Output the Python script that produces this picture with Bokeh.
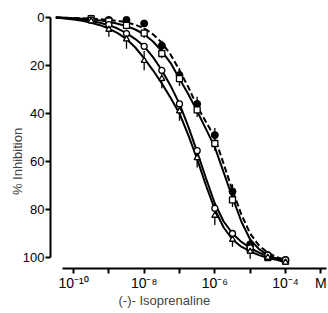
import math
from bokeh.plotting import figure
from bokeh.models import Range1d, FixedTicker, Label, ColumnDataSource, Whisker
from bokeh.embed import file_html
from bokeh.resources import INLINE

# log10 of molar (-)-isoprenaline concentration at measured points
log_conc = [-9.5, -9.0, -8.5, -8.0, -7.5, -7.0, -6.5, -6.0, -5.5, -5.0, -4.5, -4.0]
inh_filled = [0.5, 1.0, 1.0, 2.5, 11.7, 24.0, 36.0, 49.0, 72.5, 94.5, 99.0, 101.0]
inh_square = [0.5, 1.5, 3.3, 6.5, 15.0, 25.5, 38.5, 52.5, 76.0, 96.5, 100.0, 101.5]
inh_circle = [1.0, 3.0, 6.7, 12.0, 22.0, 36.0, 55.5, 79.5, 90.0, 96.0, 99.0, 101.0]
inh_triangle = [1.5, 5.0, 9.0, 18.0, 25.5, 39.0, 58.5, 82.5, 92.5, 97.5, 100.0, 102.0]
err_filled = [0, 0, 0, 0, 2, 3, 3, 3, 3, 2, 0, 0]
err_square = [0, 0, 0, 2, 2, 3, 3, 3, 3, 2, 0, 0]
err_triangle = [0, 3, 4, 4, 4, 4, 4, 4, 3, 3, 0, 0]

# fitted curves
curve_log = [-10.5, -10.25, -10.0, -9.75, -9.5, -9.25, -9.0, -8.75, -8.5, -8.25,
             -8.0, -7.75, -7.5, -7.25, -7.0, -6.75, -6.5, -6.25, -6.0, -5.75,
             -5.5, -5.25, -5.0, -4.75, -4.5, -4.25, -4.0]
curve_filled = [0, 0.1, 0.2, 0.3, 0.5, 0.7, 1.0, 1.4, 2.0, 3.0,
                4.5, 7.0, 10.5, 15.5, 22, 29, 37, 43.5, 50, 61,
                72, 82, 90, 95, 98, 99.8, 101]
curve_square = [0, 0.15, 0.3, 0.5, 0.8, 1.2, 1.8, 2.6, 3.6, 5.0,
                7.0, 10, 14, 19, 25.5, 32, 39, 46.5, 54, 64.5,
                75, 85, 92.5, 96.5, 99, 100.5, 101.5]
curve_circle = [0, 0.25, 0.5, 1.0, 1.5, 2.2, 3.2, 4.6, 6.5, 9.0,
                12, 16.5, 22, 28.5, 36, 45.5, 56, 67, 77.5, 85,
                90, 93.5, 96, 98, 99.5, 100.5, 101]
curve_triangle = [0, 0.4, 0.8, 1.4, 2.2, 3.2, 4.6, 6.5, 9.0, 12.5,
                  17, 22, 27.5, 33.5, 40, 49, 59, 70, 80, 87.5,
                  92.5, 95.5, 97.5, 99, 100.2, 101, 102]

x_ticks = [-10, -9, -8, -7, -6, -5, -4, -3]
x_tick_labels = ["10⁻¹⁰", "", "10⁻⁸", "", "10⁻⁶", "", "10⁻⁴", "M"]
y_ticks = [0, 20, 40, 60, 80, 100]

FONT = "Liberation Sans"

p = figure(width=327, height=312, output_backend="svg", toolbar_location=None,
           x_range=Range1d(-12.066, -2.811), y_range=Range1d(122.92, -7.083),
           min_border=0)
p.grid.visible = False
p.outline_line_color = None
p.background_fill_color = "white"

for ax in (p.xaxis[0], p.yaxis[0]):
    ax.axis_line_width = 2
    ax.major_tick_line_width = 2
    ax.minor_tick_line_color = None
    ax.major_tick_in = 0
    ax.major_tick_out = 5
    ax.major_label_text_font = FONT
    ax.major_label_text_font_size = "13px"
    ax.major_label_text_color = "black"
    ax.axis_line_color = "black"
    ax.major_tick_line_color = "black"

p.xaxis.ticker = FixedTicker(ticks=x_ticks)
p.xaxis.major_label_overrides = {t: l for t, l in zip(x_ticks, x_tick_labels)}
p.xaxis.bounds = (-10.311, -2.84)
p.xaxis.fixed_location = 104.58
p.xaxis.major_label_standoff = 2
p.xaxis.major_label_text_font_size = "14px"

p.yaxis.ticker = FixedTicker(ticks=y_ticks)
p.yaxis.bounds = (0, 100)
p.yaxis.fixed_location = -10.651
p.yaxis.major_label_standoff = 1

# axis titles
p.add_layout(Label(x=-11.585, y=60, text="% Inhibition", angle=math.pi / 2,
                   text_align="center", text_baseline="middle",
                   text_font=FONT, text_font_size="13px"))
p.add_layout(Label(x=-8.726, y=118.1, text="(-)- Isoprenaline",
                   text_align="left", text_baseline="alphabetic",
                   text_font=FONT, text_font_size="13px"))

# curves
p.line(curve_log, curve_filled, line_color="black", line_width=2, line_dash="6 3")
p.line(curve_log, curve_square, line_color="black", line_width=2)
p.line(curve_log, curve_circle, line_color="black", line_width=2)
p.line(curve_log, curve_triangle, line_color="black", line_width=2)

def add_err(vals, errs):
    src = ColumnDataSource(dict(x=log_conc,
                                lo=[v - e for v, e in zip(vals, errs)],
                                hi=[v + e for v, e in zip(vals, errs)]))
    p.add_layout(Whisker(source=src, base="x", lower="lo", upper="hi", dimension="height",
                         line_color="black", line_width=1.3, upper_head=None, lower_head=None))

add_err(inh_filled, err_filled)
add_err(inh_square, err_square)
add_err(inh_triangle, err_triangle)

p.scatter(log_conc, inh_filled, marker="circle", size=7, fill_color="black", line_color="black")
p.scatter(log_conc, inh_square, marker="square", size=6, fill_color="white", line_color="black", line_width=1.3)
p.scatter(log_conc, inh_circle, marker="circle", size=6, fill_color="white", line_color="black", line_width=1.3)
p.scatter(log_conc, inh_triangle, marker="triangle", size=6, fill_color="white", line_color="black", line_width=1.3)

open("out.html", "w").write(file_html(p, INLINE))
